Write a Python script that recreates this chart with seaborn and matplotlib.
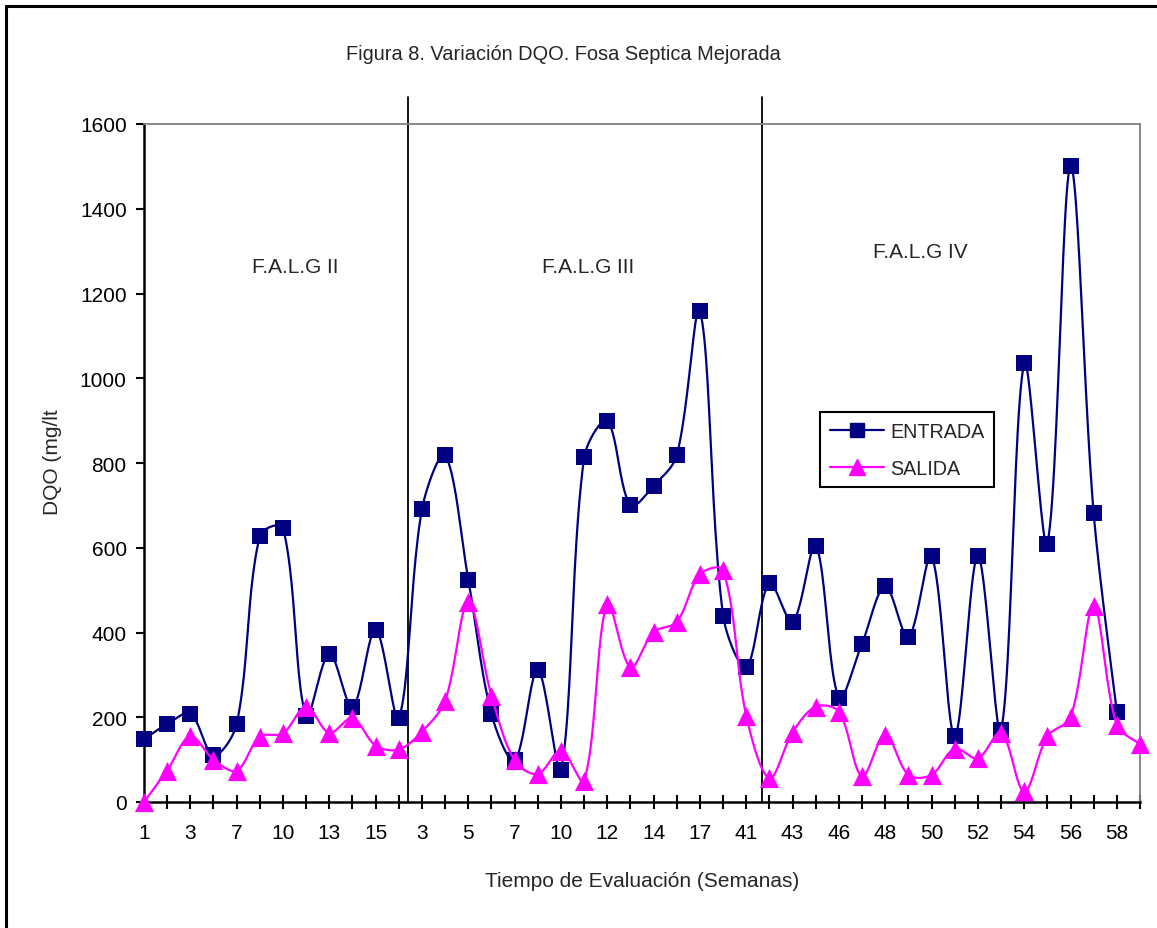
import numpy as np
import pandas as pd
import matplotlib
matplotlib.use("Agg")
import matplotlib.pyplot as plt
import seaborn as sns
from matplotlib.lines import Line2D

# Week labels of the three evaluation stages (one per sample)
semanas = ["1", "2", "3", "5", "7", "8", "10", "11", "13", "14", "15", "16",
           "3", "4", "5", "6", "7", "8", "10", "11", "12", "13", "14", "15", "17", "18",
           "41", "42", "43", "44", "46", "47", "48", "49", "50", "51", "52", "53",
           "54", "55", "56", "57", "58", "59"]

# DQO (mg/lt) at the inlet and outlet of the septic tank
entrada = [148, 184, 208, 110, 184, 628, 647, 203, 350, 224, 407, 198,
           691, 818, 525, 208, 98, 312, 76, 813, 899, 700, 746, 818, 1159, 440,
           318, 516, 425, 605, 246, 374, 509, 389, 581, 156, 581, 169, 1035, 610,
           1500, 681, 213, np.nan]
salida = [0, 74, 155, 100, 74, 154, 162, 225, 163, 198, 133, 124,
          166, 239, 472, 251, 98, 66, 121, 50, 468, 318, 401, 425, 537, 547,
          204, 56, 164, 225, 213, 61, 159, 64, 64, 126, 103, 164, 25, 155,
          200, 462, 182, 137]

etapas = ["F.A.L.G II", "F.A.L.G III", "F.A.L.G IV"]
y_ticks = [0, 200, 400, 600, 800, 1000, 1200, 1400, 1600]

COL_ENT = "#000080"
COL_SAL = "#FF00FF"


def smooth_curve(ax, xv, yv, n=24):
    """Bezier smoothing through every point; control points follow the
    neighbour direction, weighted by on-screen segment lengths."""
    xv = np.asarray(xv, float)
    yv = np.asarray(yv, float)
    ok = ~np.isnan(yv)
    pts = ax.transData.transform(np.column_stack([xv[ok], yv[ok]]))
    m = len(pts)
    c_out = np.zeros_like(pts)
    c_in = np.zeros_like(pts)
    for i in range(m):
        if i == 0:
            c_out[i] = pts[0] + (pts[1] - pts[0]) / 6.0
            continue
        if i == m - 1:
            c_in[i] = pts[i] - (pts[i] - pts[i - 1]) / 6.0
            continue
        tang = pts[i + 1] - pts[i - 1]
        dp = np.hypot(*(pts[i] - pts[i - 1]))
        dn = np.hypot(*(pts[i + 1] - pts[i]))
        tot = max(dp + dn, 1e-9)
        c_out[i] = pts[i] + tang * (dn / tot) / 3.0
        c_in[i] = pts[i] - tang * (dp / tot) / 3.0
    out = []
    for i in range(m - 1):
        p1, c1, c2, p2 = pts[i], c_out[i], c_in[i + 1], pts[i + 1]
        t = np.linspace(0, 1, n, endpoint=(i == m - 2))[:, None]
        seg = ((1 - t) ** 3) * p1 + 3 * ((1 - t) ** 2) * t * c1 \
            + 3 * (1 - t) * (t ** 2) * c2 + (t ** 3) * p2
        out.append(seg)
    out = ax.transData.inverted().transform(np.vstack(out))
    return out[:, 0], out[:, 1]


x = np.arange(len(semanas))

sns.set_theme(style="white")
plt.rcParams["font.family"] = ["Liberation Sans", "DejaVu Sans"]

W, H = 1157, 929
fig = plt.figure(figsize=(W / 100, H / 100), dpi=100)
L, R, T, B = 144, 1140, 125, 803
ax = fig.add_axes([L / W, 1 - B / H, (R - L) / W, (B - T) / H])
ax.set_xlim(0, len(semanas) - 1)
ax.set_ylim(0, 1600)

sx_e, sy_e = smooth_curve(ax, x, entrada)
sx_s, sy_s = smooth_curve(ax, x, salida)
curves = pd.concat([
    pd.DataFrame({"x": sx_e, "DQO": sy_e, "serie": "ENTRADA"}),
    pd.DataFrame({"x": sx_s, "DQO": sy_s, "serie": "SALIDA"}),
])
points = pd.DataFrame({
    "x": np.concatenate([x, x]),
    "DQO": np.concatenate([entrada, salida]),
    "serie": ["ENTRADA"] * len(x) + ["SALIDA"] * len(x),
}).dropna()

# Entrada: smooth line then square markers
sns.lineplot(data=curves[curves.serie == "ENTRADA"], x="x", y="DQO", sort=False,
             estimator=None, color=COL_ENT, lw=1.6, ax=ax, zorder=3, legend=False)
sns.scatterplot(data=points[points.serie == "ENTRADA"], x="x", y="DQO", marker="s",
                s=125, color=COL_ENT, edgecolor=COL_ENT, linewidth=0, ax=ax,
                zorder=4, legend=False)
# Salida: smooth line then triangle markers
sns.lineplot(data=curves[curves.serie == "SALIDA"], x="x", y="DQO", sort=False,
             estimator=None, color=COL_SAL, lw=1.6, ax=ax, zorder=5, legend=False)
sns.scatterplot(data=points[points.serie == "SALIDA"], x="x", y="DQO", marker="^",
                s=190, color=COL_SAL, edgecolor=COL_SAL, linewidth=0, ax=ax,
                zorder=6, legend=False)
for coll in ax.collections:
    coll.set_clip_on(False)

ax.set_xlim(0, len(semanas) - 1)
ax.set_ylim(0, 1600)
ax.set_yticks(y_ticks)
ax.set_yticklabels([str(v) for v in y_ticks], fontsize=15)
ax.set_xticks(x)
ax.set_xticklabels([s if i % 2 == 0 else "" for i, s in enumerate(semanas)], fontsize=15)

ax.tick_params(axis="y", direction="out", length=5.5, width=1.5, pad=7, colors="black",
               left=True)
ax.tick_params(axis="x", direction="inout", length=9.5, width=1.5, pad=10.5,
               colors="black", bottom=True)

for side in ("left", "bottom"):
    ax.spines[side].set_color("black")
    ax.spines[side].set_linewidth(1.8)
for side in ("top", "right"):
    ax.spines[side].set_color("#808080")
    ax.spines[side].set_linewidth(1.3)

ax.set_xlabel("Tiempo de Evaluación (Semanas)", fontsize=15, labelpad=21)
ax.set_ylabel("DQO (mg/lt", fontsize=15)
ax.yaxis.set_label_coords((52 - L) / (R - L), (B - 462) / (B - T))
ax.yaxis.label.set_va("center")
ax.grid(False)

# Stage separators
for xs in (11.39, 26.67):
    ax.axvline(xs, ymin=0, ymax=(B - 98) / (B - T), color="black", lw=1.3,
               clip_on=False, zorder=2)

# Stage names
for name, xt, yt in zip(etapas, (6.52, 19.16, 33.5), (1264, 1264, 1300)):
    ax.text(xt, yt, name, fontsize=15, ha="center", va="center")

fig.text(563 / W, 1 - 55 / H, "Figura 8. Variación DQO. Fosa Septica Mejorada",
         fontsize=14.4, ha="center", va="center")

handles = [
    Line2D([], [], color=COL_ENT, lw=1.6, marker="s", markersize=10.5,
           markeredgecolor=COL_ENT),
    Line2D([], [], color=COL_SAL, lw=1.6, marker="^", markersize=12,
           markeredgecolor=COL_SAL),
]
leg = ax.legend(handles, ["ENTRADA", "SALIDA"], loc="upper left",
                bbox_to_anchor=((820 - L) / (R - L), (B - 413) / (B - T)),
                borderaxespad=0, frameon=True, fancybox=False, fontsize=14.2,
                handlelength=2.75, handletextpad=0.3, borderpad=0.5,
                labelspacing=0.9, edgecolor="black", framealpha=1)
leg.get_frame().set_linewidth(1.5)

# Outer chart frame
fig.add_artist(Line2D([6 / W, 6 / W], [0, 1 - 7 / H], transform=fig.transFigure,
                      color="black", lw=2.2))
fig.add_artist(Line2D([6 / W, 1], [1 - 7 / H, 1 - 7 / H], transform=fig.transFigure,
                      color="black", lw=2.2))

fig.savefig("out.png", dpi=100, facecolor="white")
